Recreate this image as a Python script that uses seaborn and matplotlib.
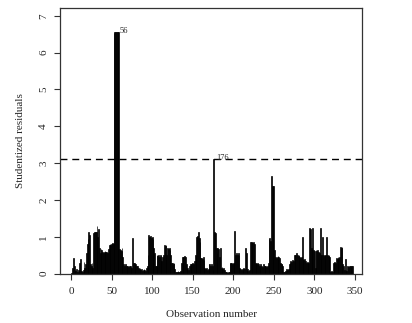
import matplotlib
matplotlib.use("Agg")
import matplotlib.pyplot as plt
import numpy as np
import pandas as pd
import seaborn as sns

resid = [
    0.02, 0.15, 0.43, 0.20, 0.10, 0.08, 0.12, 0.05, 0.10, 0.06,
    0.30, 0.40, 0.08, 0.05, 0.10, 0.33, 0.15, 0.25, 0.55, 0.80,
    0.95, 1.14, 1.05, 0.25, 0.20, 0.30, 0.15, 1.10, 1.14, 1.12,
    1.14, 1.30, 1.00, 1.22, 0.70, 0.55, 0.66, 0.64, 0.60, 0.55,
    0.60, 0.62, 0.58, 0.60, 0.55, 0.68, 0.78, 0.80, 0.78, 0.80,
    0.82, 0.80, 6.54, 6.56, 6.55, 6.57, 6.55, 6.56, 6.55, 0.68,
    0.65, 0.62, 0.70, 0.45, 0.25, 0.22, 0.25, 0.20, 0.22, 0.20,
    0.18, 0.20, 0.22, 0.18, 0.15, 0.96, 0.30, 0.28, 0.25, 0.27,
    0.22, 0.20, 0.15, 0.12, 0.15, 0.10, 0.12, 0.08, 0.10, 0.12,
    0.10, 0.08, 0.15, 0.20, 0.50, 1.05, 1.00, 1.02, 0.98, 1.00,
    0.95, 0.70, 0.55, 0.20, 0.22, 0.50, 0.48, 0.50, 0.45, 0.50,
    0.48, 0.35, 0.45, 0.50, 0.78, 0.75, 0.78, 0.50, 0.70, 0.68,
    0.70, 0.65, 0.50, 0.28, 0.30, 0.25, 0.28, 0.12, 0.05, 0.04,
    0.05, 0.06, 0.04, 0.05, 0.08, 0.30, 0.45, 0.46, 0.44, 0.47,
    0.45, 0.25, 0.12, 0.15, 0.10, 0.22, 0.25, 0.20, 0.26, 0.30,
    0.25, 0.35, 0.50, 0.45, 1.00, 1.02, 1.14, 0.98, 0.85, 0.42,
    0.42, 0.40, 0.44, 0.38, 0.15, 0.12, 0.15, 0.10, 0.12, 0.25,
    0.25, 0.22, 0.25, 0.20, 0.10, 3.12, 1.13, 1.10, 0.70, 0.55,
    0.70, 0.68, 0.45, 0.70, 0.15, 0.18, 0.12, 0.15, 0.10, 0.05,
    0.04, 0.05, 0.03, 0.05, 0.04, 0.30, 0.28, 0.30, 0.25, 0.30,
    0.28, 1.16, 0.50, 0.55, 0.52, 0.55, 0.50, 0.15, 0.12, 0.10,
    0.12, 0.10, 0.15, 0.12, 0.70, 0.55, 0.10, 0.12, 0.08, 0.10,
    0.85, 0.87, 0.85, 0.83, 0.86, 0.80, 0.28, 0.30, 0.25, 0.28,
    0.25, 0.22, 0.20, 0.25, 0.22, 0.18, 0.25, 0.20, 0.22, 0.20,
    0.18, 0.22, 0.30, 0.95, 0.98, 0.90, 2.66, 2.38, 2.36, 2.37,
    0.65, 0.45, 0.42, 0.45, 0.48, 0.45, 0.42, 0.30, 0.25, 0.27,
    0.22, 0.05, 0.04, 0.06, 0.05, 0.12, 0.10, 0.14, 0.25, 0.30,
    0.35, 0.32, 0.36, 0.35, 0.50, 0.52, 0.50, 0.55, 0.50, 0.48,
    0.50, 0.45, 0.42, 0.45, 1.00, 0.40, 0.38, 0.40, 0.35, 0.30,
    0.32, 0.30, 0.28, 1.23, 1.20, 0.70, 0.68, 1.25, 0.65, 0.62,
    0.15, 0.65, 0.62, 0.65, 0.60, 0.55, 1.23, 0.50, 0.52, 1.00,
    0.50, 0.48, 0.52, 0.50, 1.00, 0.50, 0.48, 0.50, 0.45, 0.05,
    0.06, 0.04, 0.30, 0.28, 0.32, 0.30, 0.42, 0.40, 0.44, 0.42,
    0.45, 0.72, 0.70, 0.72, 0.25, 0.22, 0.10, 0.40, 0.10, 0.08,
    0.20, 0.18, 0.22, 0.20, 0.18, 0.20, 0.22,
]
obs = list(range(1, len(resid) + 1))
cutoff = 3.1
# outlying observations that carry a label
labelled = [56, 176]
x_ticks = [0, 50, 100, 150, 200, 250, 300, 350]
y_ticks = [0, 1, 2, 3, 4, 5, 6, 7]

df = pd.DataFrame({"obs": obs, "resid": resid})

sns.set_style("ticks")
plt.rcParams["font.family"] = ["Liberation Serif", "DejaVu Serif"]

fig = plt.figure(figsize=(4.12, 3.23), dpi=100)
ax = fig.add_axes([60 / 412, 1 - 273.7 / 323, 302 / 412, 265.7 / 323])

# type="h" style spikes: one bar per observation
sns.barplot(data=df, x="obs", y="resid", native_scale=True, width=1,
            color="black", saturation=1, linewidth=0.5, edgecolor="black",
            errorbar=None, ax=ax)

ax.axhline(cutoff, color="black", lw=1.0, ls=(0, (5, 3.5)))

for o in labelled:
    ax.annotate(str(o), (o, resid[o - 1]), xytext=(2, 0.5), textcoords="offset points",
                fontsize=6, ha="left", va="center")

ax.set_xlim(-13.5, 358.6)
ax.set_ylim(0, 7.21)
ax.set_xticks(x_ticks)
ax.set_yticks(y_ticks)
ax.set_xticklabels([str(t) for t in x_ticks], fontsize=8)
ax.set_yticklabels([str(t) for t in y_ticks], fontsize=8, rotation=90, va="center")
ax.tick_params(axis="both", direction="out", length=4.5, width=0.8, color="#333333")
ax.tick_params(axis="x", pad=5)
ax.tick_params(axis="y", pad=4)
for s in ax.spines.values():
    s.set_visible(True)
    s.set_linewidth(0.9)
    s.set_color("#333333")

ax.set_xlabel("Observation number", fontsize=8, labelpad=10)
ax.set_ylabel("Studentized residuals", fontsize=8, labelpad=10)

fig.savefig("out.png", dpi=100)
